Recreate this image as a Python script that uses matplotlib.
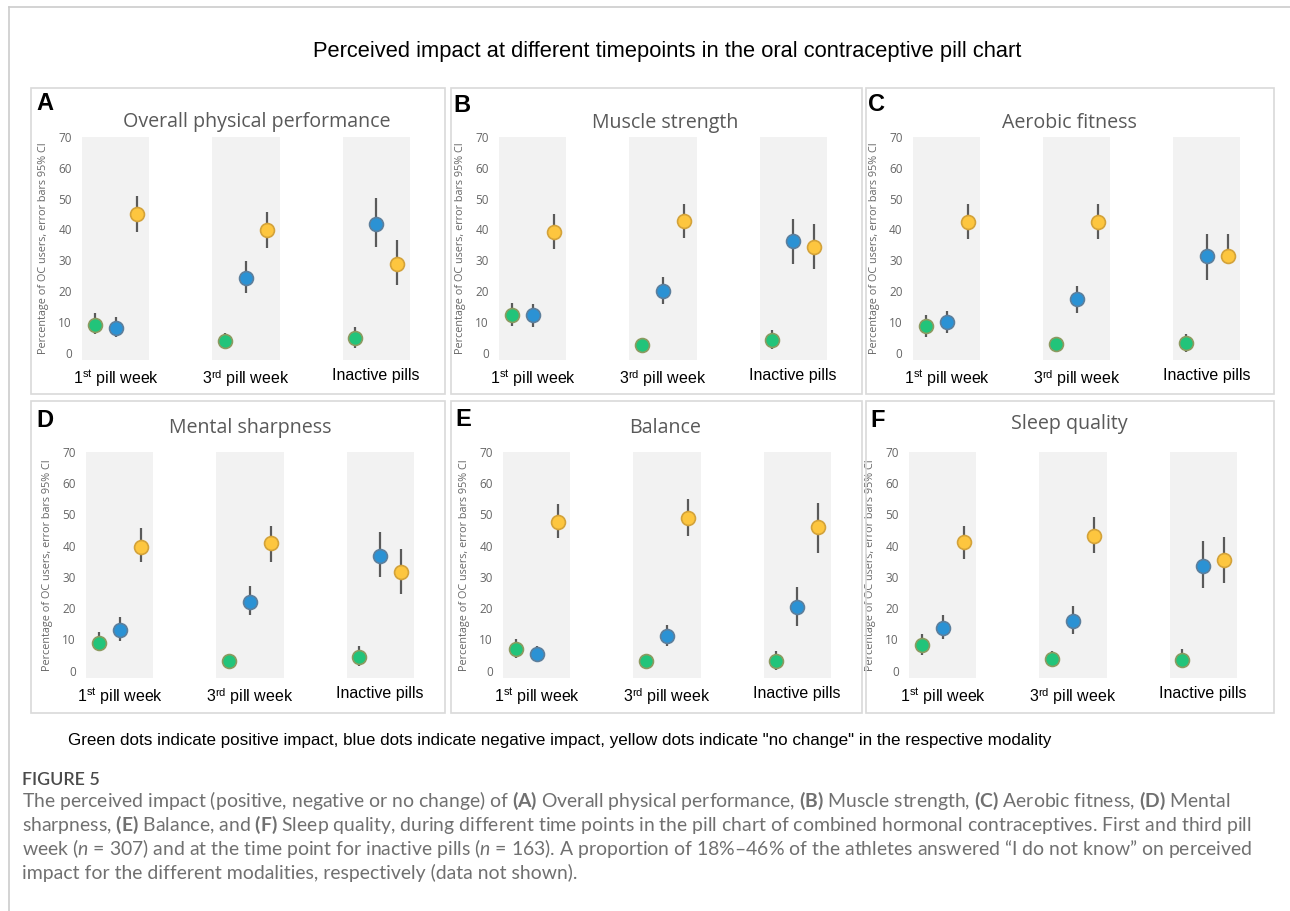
import matplotlib
matplotlib.use('Agg')
import matplotlib.pyplot as plt
from matplotlib.patches import Rectangle

# Daten
panel_letters = ['A', 'B', 'C', 'D', 'E', 'F']
panel_titles = ['Overall physical performance', 'Muscle strength', 'Aerobic fitness',
                'Mental sharpness', 'Balance', 'Sleep quality']
timepoints = ['1$^{\\mathrm{st}}$ pill week', '3$^{\\mathrm{rd}}$ pill week', 'Inactive pills']

# positive impact (green): mean, lower CI, upper CI per panel x timepoint
positive = [[9.0, 3.9, 4.8], [12.1, 2.5, 4.1], [8.7, 2.9, 3.1],
            [8.8, 3.2, 4.3], [6.9, 3.2, 3.0], [8.3, 3.8, 3.4]]
positive_lo = [[6.0, 2.4, 1.6], [8.5, 1.4, 1.1], [5.1, 1.6, 0.3],
               [6.2, 1.9, 1.6], [4.0, 1.6, 0.3], [5.1, 2.1, 1.1]]
positive_hi = [[12.8, 6.5, 8.2], [16.0, 3.7, 7.5], [12.2, 4.9, 6.0],
               [12.3, 5.1, 8.0], [10.1, 5.0, 6.1], [11.6, 6.1, 7.0]]

# negative impact (blue)
negative = [[8.1, 24.3, 41.7], [12.1, 20.1, 36.1], [9.8, 17.3, 31.3],
            [13.1, 21.9, 36.7], [5.2, 11.2, 20.2], [13.7, 15.9, 33.4]]
negative_lo = [[5.1, 19.3, 34.4], [8.3, 15.8, 28.8], [6.3, 12.8, 23.6],
               [9.4, 17.9, 29.8], [2.7, 7.8, 14.2], [10.2, 11.8, 26.3]]
negative_hi = [[11.6, 29.7, 50.2], [15.7, 24.6, 43.3], [13.6, 21.7, 38.5],
               [17.0, 27.1, 44.5], [8.0, 14.7, 26.6], [17.9, 20.6, 41.6]]

# no change (yellow)
no_change = [[45.1, 39.8, 28.8], [39.3, 42.7, 34.4], [42.5, 42.5, 31.3],
             [39.7, 40.7, 31.4], [47.7, 48.8, 46.0], [41.3, 43.0, 35.5]]
no_change_lo = [[39.3, 34.0, 21.8], [33.7, 37.1, 27.0], [36.9, 36.9, 31.3],
                [34.9, 34.9, 24.6], [42.3, 43.1, 37.8], [35.7, 37.7, 27.9]]
no_change_hi = [[50.7, 45.5, 36.6], [44.9, 48.4, 41.7], [48.1, 48.3, 38.5],
                [45.7, 46.4, 38.8], [53.3, 54.9, 53.8], [46.3, 49.1, 42.9]]

note = ('Green dots indicate positive impact, blue dots indicate negative impact, '
        'yellow dots indicate "no change" in the respective modality')
caption = [
    'The perceived impact (positive, negative or no change) of $\\mathbf{(A)}$ Overall physical performance, '
    '$\\mathbf{(B)}$ Muscle strength, $\\mathbf{(C)}$ Aerobic fitness, $\\mathbf{(D)}$ Mental',
    'sharpness, $\\mathbf{(E)}$ Balance, and $\\mathbf{(F)}$ Sleep quality, during different time points in the '
    'pill chart of combined hormonal contraceptives. First and third pill',
    'week ($\\mathit{n}$ = 307) and at the time point for inactive pills ($\\mathit{n}$ = 163). A proportion of '
    '18%\u201346% of the athletes answered \u201cI do not know\u201d on perceived',
    'impact for the different modalities, respectively (data not shown).',
]

plt.rcParams['mathtext.fontset'] = 'custom'
plt.rcParams['mathtext.rm'] = 'Liberation Sans'
plt.rcParams['mathtext.it'] = 'Lato:italic'
plt.rcParams['mathtext.bf'] = 'Lato:bold'

W, H = 1290, 911
fig = plt.figure(figsize=(W / 100, H / 100), dpi=100)
fig.patch.set_facecolor('white')


def fx(px):
    return px / W


def fy(py):
    return 1 - py / H


def fit(t, width_px):
    r = fig.canvas.get_renderer()
    w = t.get_window_extent(r).width
    t.set_fontsize(t.get_fontsize() * width_px / w)


# Seitenrahmen
fig.add_artist(plt.Line2D([fx(9), fx(9)], [fy(7), 0], color='#cccccc', lw=1.2))
fig.add_artist(plt.Line2D([fx(9), 1], [fy(7), fy(7)], color='#cccccc', lw=1.2))

frames = [(31, 88, 445, 394), (451, 88, 862, 394), (866, 88, 1274, 394),
          (31, 401, 445, 713), (451, 401, 862, 713), (866, 401, 1274, 713)]
for x0, y0, x1, y1 in frames:
    fig.add_artist(Rectangle((fx(x0), fy(y1)), (x1 - x0) / W, (y1 - y0) / H,
                             transform=fig.transFigure, fill=False,
                             ec='#d9d9d9', lw=1.2))

first_center = [116, 533, 946.7, 120, 537, 943]
rows = [(137, 360), (137, 360), (137, 360), (452, 678), (452, 678), (452, 678)]
title_pos = [(257, 122), (665, 123), (1069, 123), (250, 428), (665, 428), (1069, 424)]
letter_pos = [(36, 92), (453, 94), (868, 93), (36, 409), (455, 408), (870, 409)]

centers = [0, 6.2, 12.4]
series = [
    (positive, positive_lo, positive_hi, -1, '#22c47a', '#8c9a60'),
    (negative, negative_lo, negative_hi, 0, '#2b92d4', '#5d7f9c'),
    (no_change, no_change_lo, no_change_hi, 1, '#fdc63f', '#d3a23a'),
]

titles = []
for i in range(6):
    top, bottom = rows[i]
    left = first_center[i] - 40
    ax = fig.add_axes([fx(left), fy(bottom), 340 / W, (bottom - top) / H])
    ax.set_xlim(-1.9, 14.3)
    ax.set_ylim(-2.4, 70)
    for c in centers:
        ax.axvspan(c - 1.6, c + 1.6, color='#f2f2f2', lw=0, zorder=0)
    for vals, lo, hi, off, fc, ec in series:
        xs = [c + off for c in centers]
        ax.vlines(xs, lo[i], hi[i], color='#5a5a5a', lw=1.6, zorder=2)
        ax.plot(xs, vals[i], 'o', ms=10, mfc=fc, mec=ec, mew=1.2, zorder=3)
    for s in ax.spines.values():
        s.set_visible(False)
    ax.set_yticks(range(0, 71, 10))
    ax.set_xticks(centers)
    ax.set_xticklabels(timepoints, fontsize=11.5, family='Liberation Sans', color='black')
    ax.tick_params(length=0)
    ax.tick_params(axis='x', pad=6)
    ax.tick_params(axis='y', pad=3, labelsize=8.5, labelcolor='#666666')
    for lab in ax.get_yticklabels():
        lab.set_family('Open Sans')
    ax.set_ylabel('Percentage of OC users, error bars 95% CI', fontsize=7.8,
                  color='#666666', family='Open Sans')
    ax.yaxis.set_label_coords(-0.078, 0.5)
    ax.patch.set_alpha(0)

    tx, ty = title_pos[i]
    titles.append(fig.text(fx(tx), fy(ty), panel_titles[i], ha='center', va='center',
                           fontsize=14, color='#595959', family='Open Sans'))
    lx, ly = letter_pos[i]
    fig.text(fx(lx), fy(ly), panel_letters[i], ha='left', va='top', fontsize=17,
             fontweight='bold', family='Liberation Sans', color='black')

fit(titles[0], 269)
for t in titles[1:]:
    t.set_fontsize(titles[0].get_fontsize())

main = fig.text(fx(667), fy(52), 'Perceived impact at different timepoints in the oral contraceptive pill chart',
                ha='center', va='center', fontsize=14.5, family='Liberation Sans', color='black')
fit(main, 710)

nt = fig.text(fx(68), fy(741), note, ha='left', va='center', fontsize=11,
              family='Liberation Sans', color='black')
fit(nt, 979)

fg = fig.text(fx(22), fy(780), 'FIGURE 5', ha='left', va='center', fontsize=12.5,
              family='Lato', fontweight='semibold', color='#4a4a4a')
fit(fg, 78)

cap_lines = []
for k, line in enumerate(caption):
    cap_lines.append(fig.text(fx(22), fy(801 + 24 * k), line, ha='left', va='center',
                              fontsize=12, family='Lato', color='#707070'))
fit(cap_lines[0], 1206)
for t in cap_lines[1:]:
    t.set_fontsize(cap_lines[0].get_fontsize())

fig.savefig('out.png', dpi=100, facecolor='white')
